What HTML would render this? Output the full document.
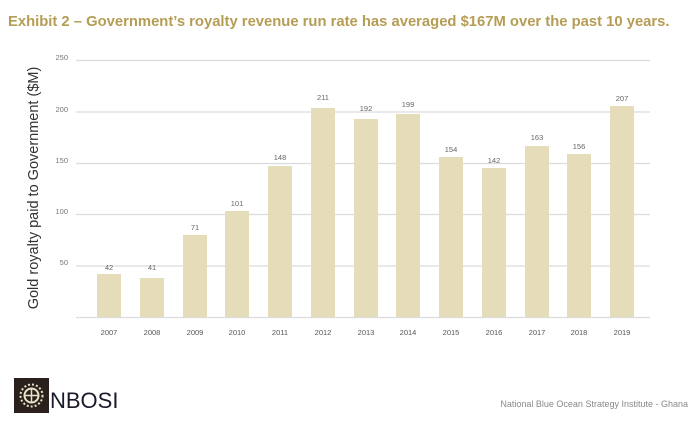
<!DOCTYPE html>
<html><head><style>
body{margin:0;width:696px;height:429px;background:#fff;overflow:hidden;font-family:"Liberation Sans",sans-serif}
</style></head><body>
<svg width="696" height="429" xmlns="http://www.w3.org/2000/svg" font-family="Liberation Sans, sans-serif">
<text x="8" y="26" font-size="14.8" font-weight="bold" fill="#b59d55">Exhibit 2 – Government’s royalty revenue run rate has averaged $167M over the past 10 years.</text>
<g stroke="#dcdcdc" stroke-width="1.2">
<line x1="76" x2="650" y1="60.5" y2="60.5"/><line x1="76" x2="650" y1="112" y2="112"/>
<line x1="76" x2="650" y1="163.5" y2="163.5"/><line x1="76" x2="650" y1="214.5" y2="214.5"/>
<line x1="76" x2="650" y1="266" y2="266"/><line x1="76" x2="650" y1="317.5" y2="317.5"/>
</g>
<g font-size="7.5" fill="#777" text-anchor="end">
<text x="68" y="60">250</text><text x="68" y="112">200</text><text x="68" y="163">150</text><text x="68" y="214">100</text><text x="68" y="265">50</text>
</g>
<text transform="translate(38,188) rotate(-90)" font-size="14.5" fill="#333" text-anchor="middle">Gold royalty paid to Government ($M)</text>
<g fill="#e5dcba">
<rect x="97" y="274" width="24" height="43"/><rect x="140" y="278" width="24" height="39"/>
<rect x="183" y="235" width="24" height="82"/><rect x="225" y="211" width="24" height="106"/>
<rect x="268" y="166" width="24" height="151"/><rect x="311" y="108" width="24" height="209"/>
<rect x="354" y="119" width="24" height="198"/><rect x="396" y="114" width="24" height="203"/>
<rect x="439" y="157" width="24" height="160"/><rect x="482" y="168" width="24" height="149"/>
<rect x="525" y="146" width="24" height="171"/><rect x="567" y="154" width="24" height="163"/>
<rect x="610" y="106" width="24" height="211"/>
</g>
<g font-size="7.5" fill="#666" text-anchor="middle">
<text x="109" y="270">42</text><text x="152" y="270">41</text><text x="195" y="230">71</text><text x="237" y="206">101</text>
<text x="280" y="160">148</text><text x="323" y="100">211</text><text x="366" y="111">192</text><text x="408" y="107">199</text>
<text x="451" y="152">154</text><text x="494" y="163">142</text><text x="537" y="140">163</text><text x="579" y="149">156</text><text x="622" y="101">207</text>
</g>
<g font-size="7.5" fill="#555" text-anchor="middle">
<text x="109" y="335">2007</text><text x="152" y="335">2008</text><text x="195" y="335">2009</text><text x="237" y="335">2010</text>
<text x="280" y="335">2011</text><text x="323" y="335">2012</text><text x="366" y="335">2013</text><text x="408" y="335">2014</text>
<text x="451" y="335">2015</text><text x="494" y="335">2016</text><text x="537" y="335">2017</text><text x="579" y="335">2018</text><text x="622" y="335">2019</text>
</g>
<rect x="14" y="378" width="35" height="35" fill="#2a211c"/>
<circle cx="31.5" cy="395.5" r="11" fill="none" stroke="#e8e2c8" stroke-width="2" stroke-dasharray="2 2"/>
<circle cx="31.5" cy="395.5" r="7" fill="none" stroke="#e8e2c8" stroke-width="2"/>
<line x1="31.5" y1="388.5" x2="31.5" y2="402.5" stroke="#e8e2c8" stroke-width="1.5"/>
<line x1="24.5" y1="395.5" x2="38.5" y2="395.5" stroke="#e8e2c8" stroke-width="1.5"/>
<text x="50" y="408" font-size="22" fill="#1a1a2a">NBOSI</text>
<text x="688" y="407" font-size="9" fill="#888" text-anchor="end">National Blue Ocean Strategy Institute - Ghana</text>
</svg>
</body></html>
